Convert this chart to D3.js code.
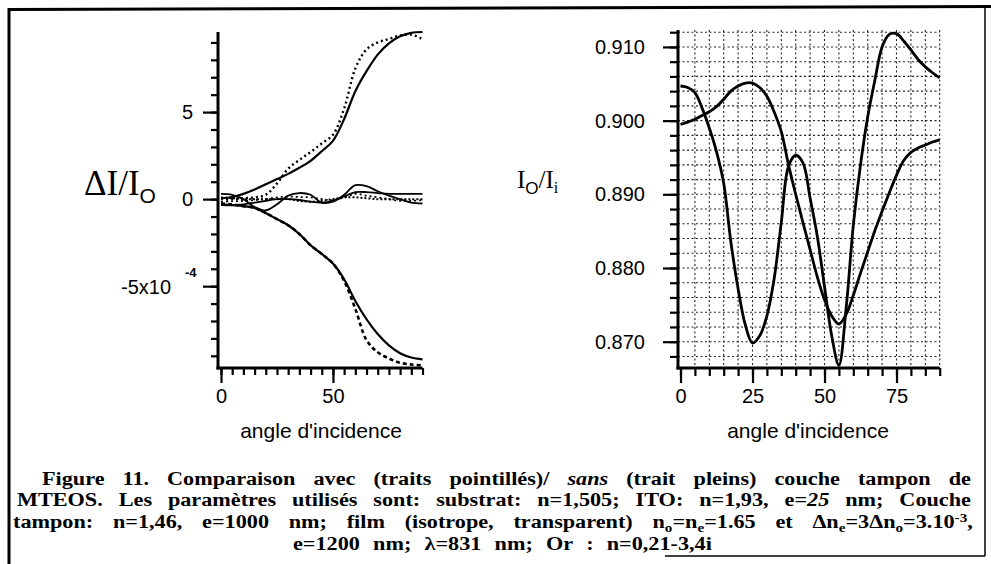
<!DOCTYPE html>
<html><head><meta charset="utf-8">
<script src="https://cdn.jsdelivr.net/npm/d3@7"></script>
<style>html,body{margin:0;padding:0;background:#fff}svg{display:block}</style>
</head><body>
<script>
// ---------- DATA ----------
// Left panel: ΔI/I0 (units of 1e-4) vs angle of incidence
const leftAngles = [0,5,10,15,20,25,30,35,40,45,50,55,60,65,70,75,80,85,90];
const upperSolid  = [0.05,0.12,0.3,0.55,0.85,1.15,1.45,1.8,2.2,2.75,3.35,4.6,6.2,7.35,8.3,8.95,9.35,9.55,9.6];
const upperDotted = [0.0,0.0,0.05,0.1,0.25,0.9,1.75,2.25,2.7,3.2,3.7,5.2,7.5,8.6,9.0,9.2,9.4,9.45,9.2];
const lowerSolid  = [-0.3,-0.35,-0.4,-0.5,-0.8,-1.15,-1.5,-2.0,-2.65,-3.15,-3.7,-4.6,-5.85,-6.9,-7.75,-8.4,-8.85,-9.1,-9.2];
const lowerDotted = [-0.25,-0.3,-0.4,-0.5,-0.8,-1.15,-1.5,-2.0,-2.65,-3.15,-3.7,-4.7,-6.3,-8.1,-8.8,-9.15,-9.4,-9.5,-9.55];
const smallSolidA = [0.3,0.25,0.0,-0.45,-0.65,-0.3,0.2,0.35,0.25,-0.2,-0.15,0.25,0.8,0.75,0.45,0.2,0.0,-0.2,-0.25];
const smallSolidB = [-0.35,-0.35,-0.3,-0.2,-0.1,0.0,0.0,-0.05,-0.15,-0.2,-0.1,0.15,0.4,0.4,0.35,0.3,0.3,0.3,0.3];
const smallDottedC = [0.1,0.05,0.0,0.0,0.0,0.0,0.0,-0.1,-0.15,-0.1,0.0,0.1,0.1,0.05,0.0,0.0,0.0,0.0,0.0];
const smallDottedD = [-0.15,-0.12,-0.1,-0.05,0.0,0.1,0.15,0.12,0.1,0.0,-0.05,0.1,0.3,0.2,0.1,0.0,-0.1,-0.1,-0.05];
const leftXTickLabels = ["0","50"];
const leftYTickLabels = ["5","0","-5x10"];

// Right panel: I0/Ii vs angle of incidence
const rightAngles = [0,2.5,5,7.5,10,12.5,15,17.5,20,22.5,25,27.5,30,32.5,35,37.5,40,42.5,45,47.5,50,52.5,55,57.5,60,62.5,65,67.5,70,72.5,75,77.5,80,82.5,85,87.5,90];
const rightCurveA = [0.9047,0.9045,0.9038,0.9017,0.8990,0.8958,0.8915,0.8835,0.8772,0.8723,0.8698,0.8708,0.8735,0.8785,0.8862,0.8938,0.8953,0.8943,0.8895,0.8843,0.8775,0.8708,0.8668,0.8745,0.8858,0.8940,0.9005,0.9055,0.9100,0.9117,0.9118,0.9108,0.9096,0.9083,0.9073,0.9065,0.9058];
const rightCurveB = [0.8995,0.8998,0.9002,0.9007,0.9012,0.9019,0.9029,0.9040,0.9047,0.9051,0.9051,0.9045,0.9033,0.9012,0.8985,0.8940,0.8900,0.8862,0.8825,0.8788,0.8757,0.8735,0.8724,0.8737,0.8763,0.8793,0.8822,0.8851,0.8877,0.8902,0.8926,0.8946,0.8957,0.8963,0.8967,0.8971,0.8974];
const rightXTickLabels = ["0","25","50","75"];
const rightYTickLabels = ["0.870","0.880","0.890","0.900","0.910"];

// ---------- SVG ----------
const W = 991, H = 564;
const svg = d3.select("body").append("svg").attr("width", W).attr("height", H);
svg.append("rect").attr("width", W).attr("height", H).attr("fill", "#fff");

const SANS = "'Liberation Sans', Arial, Helvetica, sans-serif";
const SERIF = "'Liberation Serif', 'Times New Roman', Times, serif";

// frame
svg.append("line").attr("x1", 8).attr("y1", 9.5).attr("x2", 991).attr("y2", 6.5).attr("stroke", "#000").attr("stroke-width", 3);
svg.append("line").attr("x1", 9).attr("y1", 8).attr("x2", 9).attr("y2", 564).attr("stroke", "#000").attr("stroke-width", 3);
svg.append("line").attr("x1", 985).attr("y1", 7).attr("x2", 985).attr("y2", 556).attr("stroke", "#000").attr("stroke-width", 1.5);
svg.append("line").attr("x1", 665).attr("y1", 556).attr("x2", 985).attr("y2", 556).attr("stroke", "#000").attr("stroke-width", 1.5);

// ---------- LEFT PANEL ----------
const xL = d3.scaleLinear().domain([0, 90]).range([221, 422.5]);
const yL = d3.scaleLinear().domain([-9.7, 9.6]).range([368, 32]);
const gL = svg.append("g");

const leftXAxisMinor = d3.axisBottom(xL).tickValues(leftAngles).tickSize(7).tickFormat("");
const leftXAxisMajor = d3.axisBottom(xL).tickValues([0, 50]).tickSize(15).tickFormat((d, i) => leftXTickLabels[i]).tickPadding(6);
const leftYAxisMinor = d3.axisLeft(yL).tickValues([-9,-8,-7,-6,-5,-4,-3,-2,-1,0,1,2,3,4,5,6,7,8,9]).tickSize(7).tickFormat("");
const leftYAxisMajor = d3.axisLeft(yL).tickValues([5, 0, -5]).tickSize(15).tickFormat("");

function styleAxis(g) {
  g.select(".domain").remove();
  g.selectAll(".tick line").attr("stroke", "#000").attr("stroke-width", 2.2);
  g.selectAll(".tick text").attr("font-family", SANS).attr("font-size", 20).attr("fill", "#000");
}
gL.append("g").attr("transform", "translate(0,368)").call(leftXAxisMinor).call(styleAxis);
gL.append("g").attr("transform", "translate(0,368)").call(leftXAxisMajor).call(styleAxis);
gL.append("g").attr("transform", "translate(218,0)").call(leftYAxisMinor).call(styleAxis);
gL.append("g").attr("transform", "translate(218,0)").call(leftYAxisMajor).call(styleAxis);
gL.append("line").attr("x1", 218).attr("x2", 218).attr("y1", yL(9.6)).attr("y2", 369.5).attr("stroke", "#000").attr("stroke-width", 3);
gL.append("line").attr("x1", 216.5).attr("x2", xL(90)).attr("y1", 368).attr("y2", 368).attr("stroke", "#000").attr("stroke-width", 3);

gL.append("text").attr("x", 193).attr("y", yL(5) + 7).attr("text-anchor", "end")
  .attr("font-family", SANS).attr("font-size", 20).text(leftYTickLabels[0]);
gL.append("text").attr("x", 193).attr("y", yL(0) + 7).attr("text-anchor", "end")
  .attr("font-family", SANS).attr("font-size", 20).text(leftYTickLabels[1]);
gL.append("text").attr("x", 171).attr("y", yL(-5) + 8).attr("text-anchor", "end")
  .attr("font-family", SANS).attr("font-size", 20).text(leftYTickLabels[2]);
gL.append("text").attr("x", 185).attr("y", yL(-5) - 9)
  .attr("font-family", SANS).attr("font-size", 13).attr("font-weight", "bold").text("-4");

const lblL = gL.append("text").attr("x", 84).attr("y", 195).attr("font-family", SERIF).attr("font-size", 35);
lblL.append("tspan").text("ΔI/I");
lblL.append("tspan").attr("font-family", SANS).attr("font-size", 21).attr("dy", 8).text("O");

gL.append("text").attr("x", 321).attr("y", 438).attr("text-anchor", "middle")
  .attr("font-family", SANS).attr("font-size", 21).text("angle d'incidence");

const lineL = d3.line().x(d => xL(d[0])).y(d => yL(d[1])).curve(d3.curveCatmullRom.alpha(0.5));
const leftSeries = [
  { v: upperSolid, dash: null, w: 2.2 },
  { v: lowerSolid, dash: null, w: 2.2 },
  { v: smallSolidA, dash: null, w: 1.8 },
  { v: smallSolidB, dash: null, w: 1.8 },
  { v: upperDotted, dash: "2,3", w: 2.4 },
  { v: lowerDotted, dash: "4,3", w: 2.6 },
  { v: smallDottedC, dash: "2,2", w: 2 },
  { v: smallDottedD, dash: "2,3", w: 1.8 }
];
leftSeries.forEach(s => {
  gL.append("path").datum(leftAngles.map((a, i) => [a, s.v[i]]))
    .attr("d", lineL).attr("fill", "none").attr("stroke", "#000")
    .attr("stroke-width", s.w).attr("stroke-dasharray", s.dash);
});

// ---------- RIGHT PANEL ----------
const xR = d3.scaleLinear().domain([0, 90]).range([680.5, 939.7]);
const yR = d3.scaleLinear().domain([0.86643, 0.9123]).range([368, 30]);
const gR = svg.append("g");

const gridX = [5,10,15,20,25,30,35,40,45,50,55,60,65,70,75,80,85,90];
const gridY = [0.868,0.870,0.872,0.874,0.876,0.878,0.880,0.882,0.884,0.886,0.888,0.890,0.892,0.894,0.896,0.898,0.900,0.902,0.904,0.906,0.908,0.910,0.912];
gR.append("g").selectAll("line").data(gridX).join("line")
  .attr("x1", d => xR(d)).attr("x2", d => xR(d)).attr("y1", 30).attr("y2", 368)
  .attr("stroke", "#222").attr("stroke-width", 1.1).attr("stroke-dasharray", "2,2.5");
gR.append("g").selectAll("line").data(gridY).join("line")
  .attr("x1", 678).attr("x2", xR(90)).attr("y1", d => yR(d)).attr("y2", d => yR(d))
  .attr("stroke", "#222").attr("stroke-width", 1.1).attr("stroke-dasharray", "2,2.5");

const rightXAxisMinor = d3.axisBottom(xR).tickValues([0,5,10,15,20,25,30,35,40,45,50,55,60,65,70,75,80,85,90]).tickSize(8).tickFormat("");
const rightXAxisMajor = d3.axisBottom(xR).tickValues([0,25,50,75]).tickSize(15).tickFormat((d, i) => rightXTickLabels[i]).tickPadding(6);
const rightYAxisMinor = d3.axisLeft(yR).tickValues(gridY).tickSize(8).tickFormat("");
const rightYAxisMajor = d3.axisLeft(yR).tickValues([0.870,0.880,0.890,0.900,0.910]).tickSize(15).tickPadding(18).tickFormat((d, i) => rightYTickLabels[i]);
gR.append("g").attr("transform", "translate(0,368)").call(rightXAxisMinor).call(styleAxis);
gR.append("g").attr("transform", "translate(0,368)").call(rightXAxisMajor).call(styleAxis);
gR.append("g").attr("transform", "translate(678,0)").call(rightYAxisMinor).call(styleAxis);
gR.append("g").attr("transform", "translate(678,0)").call(rightYAxisMajor).call(styleAxis);
gR.append("line").attr("x1", 678).attr("x2", 678).attr("y1", 30).attr("y2", 369.5).attr("stroke", "#000").attr("stroke-width", 3);
gR.append("line").attr("x1", 676.5).attr("x2", xR(90)).attr("y1", 368).attr("y2", 368).attr("stroke", "#000").attr("stroke-width", 3);

const lblR = gR.append("text").attr("x", 517).attr("y", 188).attr("font-family", SERIF).attr("font-size", 25);
lblR.append("tspan").text("I");
lblR.append("tspan").attr("font-family", SANS).attr("font-size", 17).attr("dy", 6).text("O");
lblR.append("tspan").attr("dy", -6).text("/I");
lblR.append("tspan").attr("font-size", 16).attr("dy", 5).text("i");

gR.append("text").attr("x", 808).attr("y", 438).attr("text-anchor", "middle")
  .attr("font-family", SANS).attr("font-size", 21).text("angle d'incidence");

const lineR = d3.line().x(d => xR(d[0])).y(d => yR(d[1])).curve(d3.curveCatmullRom.alpha(0.5));
[rightCurveA, rightCurveB].forEach(v => {
  gR.append("path").datum(rightAngles.map((a, i) => [a, v[i]]))
    .attr("d", lineR).attr("fill", "none").attr("stroke", "#000").attr("stroke-width", 2.8)
    .attr("stroke-linejoin", "round");
});

// ---------- CAPTION ----------
const capLines = [
  { x0: 42, x1: 971, y: 484.5, words: [
    [["Figure"]], [["11."]], [["Comparaison"]], [["avec"]], [["(traits"]], [["pointillés)/"]],
    [["sans", "i"]], [["(trait"]], [["pleins)"]], [["couche"]], [["tampon"]], [["de"]] ] },
  { x0: 17, x1: 971, y: 506, words: [
    [["MTEOS."]], [["Les"]], [["paramètres"]], [["utilisés"]], [["sont:"]], [["substrat:"]],
    [["n=1,505;"]], [["ITO:"]], [["n=1,93,"]], [["e="], ["25", "i"]], [["nm;"]], [["Couche"]] ] },
  { x0: 13, x1: 973, y: 528, words: [
    [["tampon:"]], [["n=1,46,"]], [["e=1000"]], [["nm;"]], [["film"]], [["(isotrope,"]], [["transparent)"]],
    [["n"], ["o", "sub"], ["=n"], ["e", "sub"], ["=1.65"]], [["et"]],
    [["Δn"], ["e", "sub"], ["=3Δn"], ["o", "sub"], ["=3.10"], ["-3", "sup"], [","]] ] },
  { x0: 293, x1: 712, y: 550, words: [
    [["e=1200"]], [["nm;"]], [["λ=831"]], [["nm;"]], [["Or"]], [[":"]], [["n=0,21-3,4i"]] ] }
];
const SX = 1.17;
const gC = svg.append("g").attr("font-family", SERIF).attr("font-size", 19).attr("font-weight", "bold").attr("fill", "#000");
capLines.forEach(line => {
  const nodes = line.words.map(word => {
    const t = gC.append("text");
    let shift = 0;
    word.forEach(seg => {
      const type = seg[1];
      const target = type === "sub" ? 4 : type === "sup" ? -6 : 0;
      const ts = t.append("tspan").text(seg[0]);
      if (target !== shift) ts.attr("dy", target - shift);
      shift = target;
      if (type === "sub" || type === "sup") ts.attr("font-size", 13);
      if (type === "i") ts.attr("font-style", "italic");
    });
    return t;
  });
  const widths = nodes.map(n => n.node().getComputedTextLength() * SX);
  const total = d3.sum(widths);
  const gap = (line.x1 - line.x0 - total) / (nodes.length - 1);
  let x = line.x0;
  nodes.forEach((n, i) => {
    n.attr("transform", `translate(${x},${line.y}) scale(${SX},1)`);
    x += widths[i] + gap;
  });
});
</script>
</body></html>
